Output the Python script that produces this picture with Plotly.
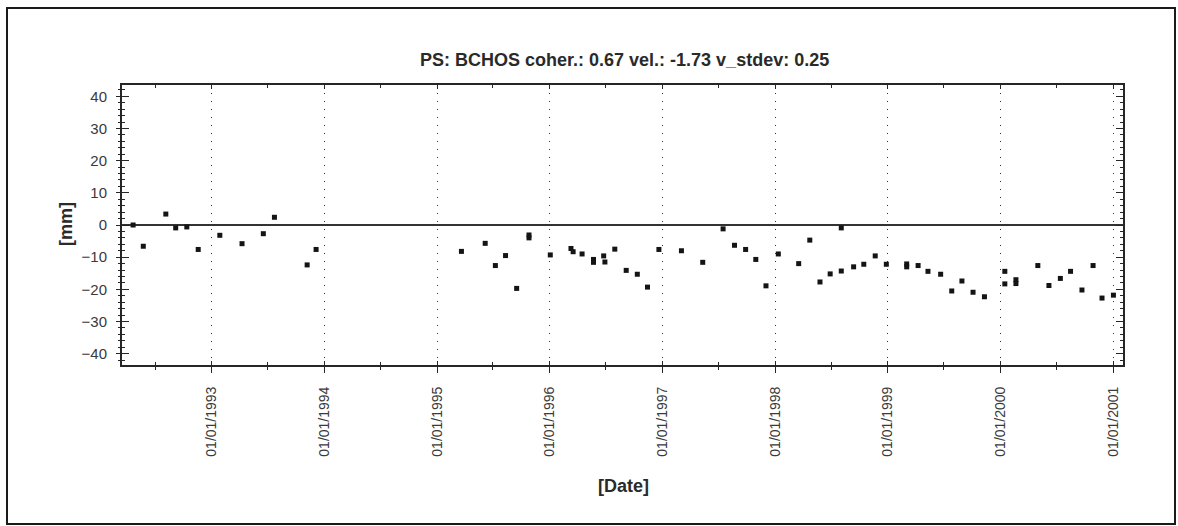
import plotly.graph_objects as go

# PS time series: acquisition dates and displacement in mm
dates = [
    "1992-04-21", "1992-05-24", "1992-08-05", "1992-09-06", "1992-10-12", "1992-11-18",
    "1993-01-27", "1993-04-09", "1993-06-17", "1993-07-23", "1993-11-06", "1993-12-05",
    "1995-03-21", "1995-06-06", "1995-07-09", "1995-08-11", "1995-09-16", "1995-10-26",
    "1995-10-26", "1996-01-03", "1996-03-10", "1996-03-17", "1996-04-15", "1996-05-22",
    "1996-05-22", "1996-06-24", "1996-06-28", "1996-07-30", "1996-09-05", "1996-10-11",
    "1996-11-13", "1996-12-20", "1997-03-03", "1997-05-11", "1997-07-16", "1997-08-22",
    "1997-09-27", "1997-10-30", "1997-12-02", "1998-01-11", "1998-03-18", "1998-04-23",
    "1998-05-26", "1998-06-28", "1998-08-03", "1998-08-03", "1998-09-12", "1998-10-15",
    "1998-11-21", "1998-12-27", "1999-03-03", "1999-03-03", "1999-04-09", "1999-05-11",
    "1999-06-21", "1999-07-27", "1999-08-29", "1999-10-04", "1999-11-10", "2000-01-15",
    "2000-01-15", "2000-02-20", "2000-02-20", "2000-05-01", "2000-06-06", "2000-07-13",
    "2000-08-15", "2000-09-21", "2000-10-27", "2000-11-25", "2001-01-01",
]
displacement_mm = [
    0.0, -6.6, 3.4, -0.9, -0.6, -7.6,
    -3.2, -5.8, -2.7, 2.4, -12.4, -7.6,
    -8.2, -5.7, -12.6, -9.5, -19.7, -3.1,
    -4.0, -9.3, -7.3, -8.3, -9.0, -10.7,
    -11.6, -9.6, -11.5, -7.5, -14.1, -15.3,
    -19.3, -7.6, -8.0, -11.6, -1.2, -6.3,
    -7.6, -10.7, -18.9, -9.0, -12.0, -4.7,
    -17.7, -15.2, -0.9, -14.3, -13.0, -12.2,
    -9.6, -12.2, -12.1, -13.0, -12.6, -14.4,
    -15.3, -20.5, -17.4, -20.9, -22.3, -14.4,
    -18.3, -17.0, -18.2, -12.6, -18.8, -16.6,
    -14.4, -20.2, -12.6, -22.7, -21.8,
]

year_ticks = [f"{y}-01-01" for y in range(1993, 2002)]
year_labels = [f"01/01/{y}" for y in range(1993, 2002)]
half_year_ticks = [f"{y}-07-01" for y in range(1992, 2001)]
mm_ticks = [-40, -30, -20, -10, 0, 10, 20, 30, 40]

x_range = ["1992-03-16", "2001-02-01"]
y_range = [-43.5, 43.5]

title_text = "PS: BCHOS coher.: 0.67 vel.: -1.73 v_stdev: 0.25"

W, H = 1178, 526
L, R, T, B = 122, 55, 85, 161
pw, ph = W - L - R, H - T - B


def px_x(p):
    return (p - L) / pw


def px_y(p):
    return (H - B - p) / ph


ink = "#262626"
sans = "Liberation Sans, Arial, sans-serif"

fig = go.Figure()
fig.add_trace(go.Scatter(
    x=dates, y=displacement_mm, mode="markers",
    marker=dict(symbol="square", size=5, color="#141414", line=dict(width=0)),
    showlegend=False, hoverinfo="x+y",
))
# empty trace that carries the outward halves of the crossing ticks
fig.add_trace(go.Scatter(x=[], y=[], xaxis="x2", yaxis="y2", showlegend=False))

fig.update_layout(
    width=W, height=H,
    margin=dict(l=L, r=R, t=T, b=B, pad=0),
    paper_bgcolor="white", plot_bgcolor="white",
    showlegend=False,
    xaxis=dict(
        type="date", range=x_range,
        tickmode="array", tickvals=year_ticks, ticktext=year_labels,
        tickangle=-90, ticks="inside", ticklen=4, tickwidth=1, tickcolor=ink,
        ticklabelstandoff=14,
        tickfont=dict(family=sans, size=14, color="#3a3a3a"),
        minor=dict(tickmode="array", tickvals=half_year_ticks, ticks="inside",
                   ticklen=3, tickwidth=1, tickcolor=ink, showgrid=False),
        showline=True, linecolor=ink, linewidth=2, mirror="ticks",
        showgrid=True, gridcolor="#333333", gridwidth=1, griddash="1px,7px",
        zeroline=False,
    ),
    yaxis=dict(
        range=y_range, tickmode="array", tickvals=mm_ticks,
        ticks="inside", ticklen=7, tickwidth=1, tickcolor=ink,
        ticklabelstandoff=10,
        tickfont=dict(family=sans, size=15, color="#3a3a3a"),
        minor=dict(dtick=2, tick0=0, ticks="inside", ticklen=3, tickwidth=1,
                   tickcolor=ink, showgrid=False),
        showline=True, linecolor=ink, linewidth=2, mirror="ticks",
        showgrid=False,
        zeroline=True, zerolinecolor="#333333", zerolinewidth=2,
    ),
    xaxis2=dict(
        type="date", range=x_range, overlaying="x", anchor="y2", side="bottom",
        tickmode="array", tickvals=year_ticks, ticks="outside", ticklen=7,
        tickwidth=1, tickcolor=ink, showticklabels=False,
        minor=dict(tickmode="array", tickvals=half_year_ticks, ticks="outside",
                   ticklen=4, tickwidth=1, tickcolor=ink, showgrid=False),
        showline=False, showgrid=False, zeroline=False,
    ),
    yaxis2=dict(
        range=y_range, overlaying="y", anchor="x2", side="left",
        tickmode="array", tickvals=mm_ticks, ticks="outside", ticklen=5,
        tickwidth=1, tickcolor=ink, showticklabels=False,
        minor=dict(dtick=2, tick0=0, ticks="outside", ticklen=3, tickwidth=1,
                   tickcolor=ink, showgrid=False),
        showline=False, showgrid=False, zeroline=False,
    ),
    shapes=[
        dict(type="rect", xref="paper", yref="paper",
             x0=px_x(7), x1=px_x(1175), y0=px_y(524), y1=px_y(8),
             line=dict(color="#1a1a1a", width=2), fillcolor="rgba(0,0,0,0)",
             layer="below"),
    ],
    annotations=[
        dict(text=f"<b>{title_text}</b>", xref="paper", yref="paper",
             x=px_x(624), y=px_y(60), xanchor="center", yanchor="middle",
             showarrow=False,
             font=dict(family=sans, size=18, color="#2a2a2a")),
        dict(text="<b>[mm]</b>", xref="paper", yref="paper",
             x=px_x(66), y=px_y(224), xanchor="center", yanchor="middle",
             textangle=-90, showarrow=False,
             font=dict(family=sans, size=18, color="#2a2a2a")),
        dict(text="<b>[Date]</b>", xref="paper", yref="paper",
             x=px_x(623), y=px_y(486), xanchor="center", yanchor="middle",
             showarrow=False,
             font=dict(family=sans, size=18, color="#2a2a2a")),
    ],
)

fig.write_html("out.html")
